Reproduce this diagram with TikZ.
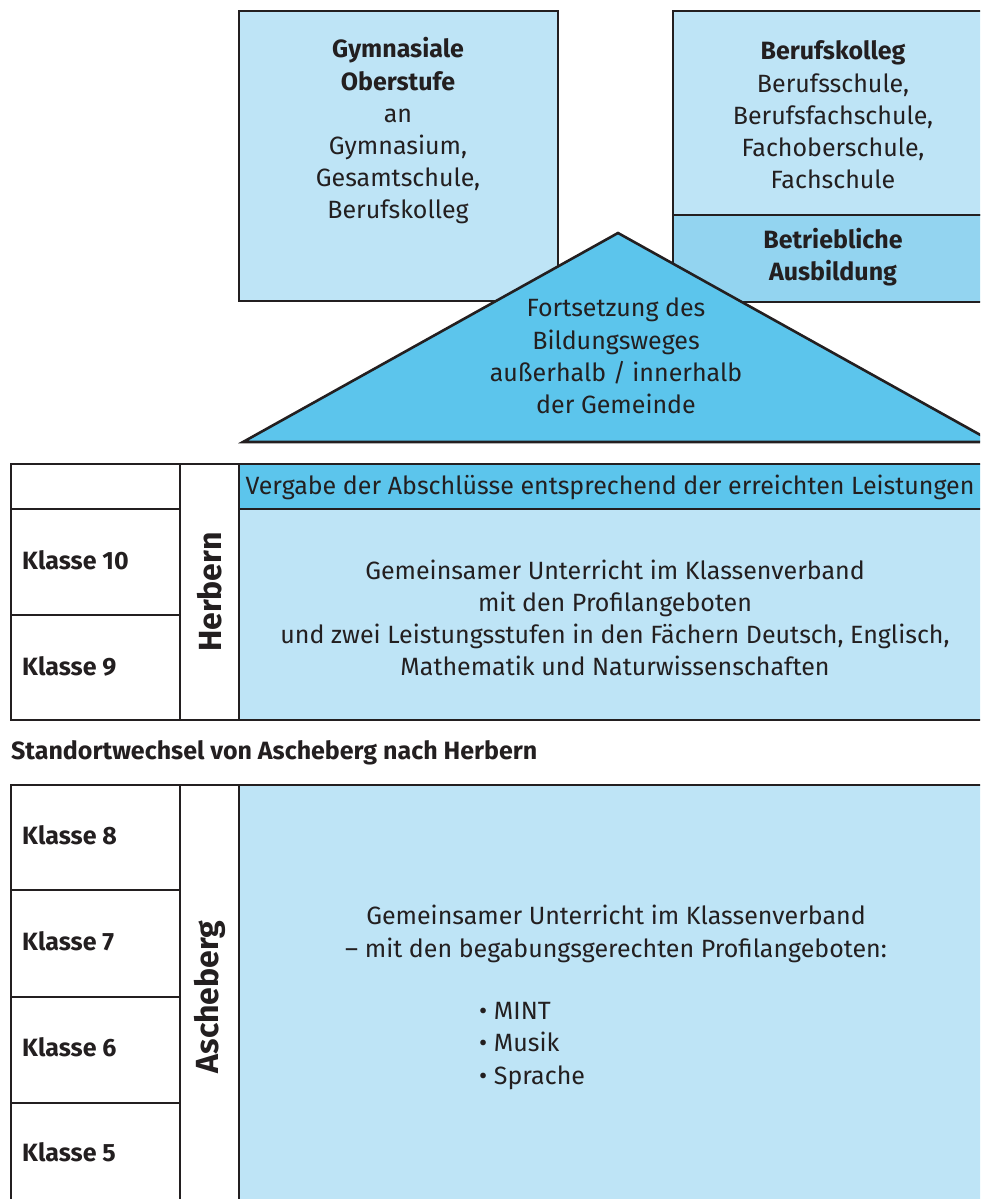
\documentclass[tikz,border=0pt]{standalone}
\usepackage{fontspec}
\setmainfont{Fira Sans}
\definecolor{lightblue}{HTML}{BEE4F6}
\definecolor{midblue}{HTML}{93D4F0}
\definecolor{strongblue}{HTML}{5CC5EC}
\definecolor{ink}{HTML}{231F20}
\tikzset{
  frame/.style={draw=ink, line width=2.6pt},
  txt/.style={text=ink, font=\fontsize{25}{32.2}\selectfont, align=center, inner sep=0pt},
  boldtxt/.style={txt, font=\fontsize{25}{32.2}\selectfont\bfseries},
  klasse/.style={text=ink, font=\fontsize{25}{30}\selectfont\bfseries, anchor=west, inner sep=0pt},
  place/.style={text=ink, font=\fontsize{32}{34}\selectfont\bfseries, rotate=90, inner sep=0pt},
}
\begin{document}
\begin{tikzpicture}[x=1pt,y=-1pt]
\useasboundingbox (0,0) rectangle (980,1199);
\clip (0,0) rectangle (980,1199);
% top boxes
\path[frame, fill=lightblue] (239,11) rectangle (558,301);
\path[frame, fill=lightblue] (673,11) rectangle (995,215);
\path[frame, fill=midblue] (673,215) rectangle (995,302);
\node[txt] (gym) at (398,131) {\textbf{Gymnasiale}\\\textbf{Oberstufe}\\an\\Gymnasium,\\Gesamtschule,\\Berufskolleg};
\node[txt] (bk) at (833,115) {\textbf{Berufskolleg}\\Berufsschule,\\Berufsfachschule,\\Fachoberschule,\\Fachschule};
\node[boldtxt] (betr) at (833,257) {Betriebliche\\Ausbildung};
% triangle
\path[frame, fill=strongblue, line join=miter] (243,442) -- (618,233) -- (993,442) -- cycle;
\node[txt] (fort) at (616,356) {Fortsetzung des\\Bildungsweges\\außerhalb / innerhalb\\der Gemeinde};
% Herbern table
\path[fill=strongblue] (239,464) rectangle (995,509);
\path[fill=lightblue] (239,509) rectangle (995,720);
\path[frame] (11,464) rectangle (995,720);
\draw[frame] (180,464) -- (180,720);
\draw[frame] (239,464) -- (239,720);
\draw[frame] (11,509) -- (180,509);
\draw[frame] (239,509) -- (995,509);
\draw[frame] (11,615) -- (180,615);
\node[txt] (vergabe) at (610,487) {Vergabe der Abschlüsse entsprechend der erreichten Leistungen};
\node[klasse] (k10) at (22,560) {Klasse 10};
\node[klasse] (k9) at (22,666) {Klasse 9};
\node[place] (herbern) at (210,592) {Herbern};
\node[txt] (unterricht1) at (615,618) {Gemeinsamer Unterricht im Klassenverband\\mit den Profilangeboten\\und zwei Leistungsstufen in den Fächern Deutsch, Englisch,\\Mathematik und Naturwissenschaften};
% Standortwechsel
\node[klasse] (wechsel) at (11,753) {Standortwechsel von Ascheberg nach Herbern};
% Ascheberg table
\path[fill=lightblue] (239,785) rectangle (995,1215);
\path[frame] (11,785) rectangle (995,1215);
\draw[frame] (180,785) -- (180,1215);
\draw[frame] (239,785) -- (239,1215);
\draw[frame] (11,890) -- (180,890);
\draw[frame] (11,997) -- (180,997);
\draw[frame] (11,1103) -- (180,1103);
\node[klasse] (k8) at (22,835) {Klasse 8};
\node[klasse] (k7) at (22,941) {Klasse 7};
\node[klasse] (k6) at (22,1047) {Klasse 6};
\node[klasse] (k5) at (22,1152) {Klasse 5};
\node[place] (ascheberg) at (210,997) {Ascheberg};
\node[txt] (unterricht2) at (616,934) {Gemeinsamer Unterricht im Klassenverband\\– mit den begabungsgerechten Profilangeboten:};
\node[txt, align=left, anchor=west] (bullets) at (479,1046) {• MINT\\• Musik\\• Sprache};
\end{tikzpicture}
\end{document}
